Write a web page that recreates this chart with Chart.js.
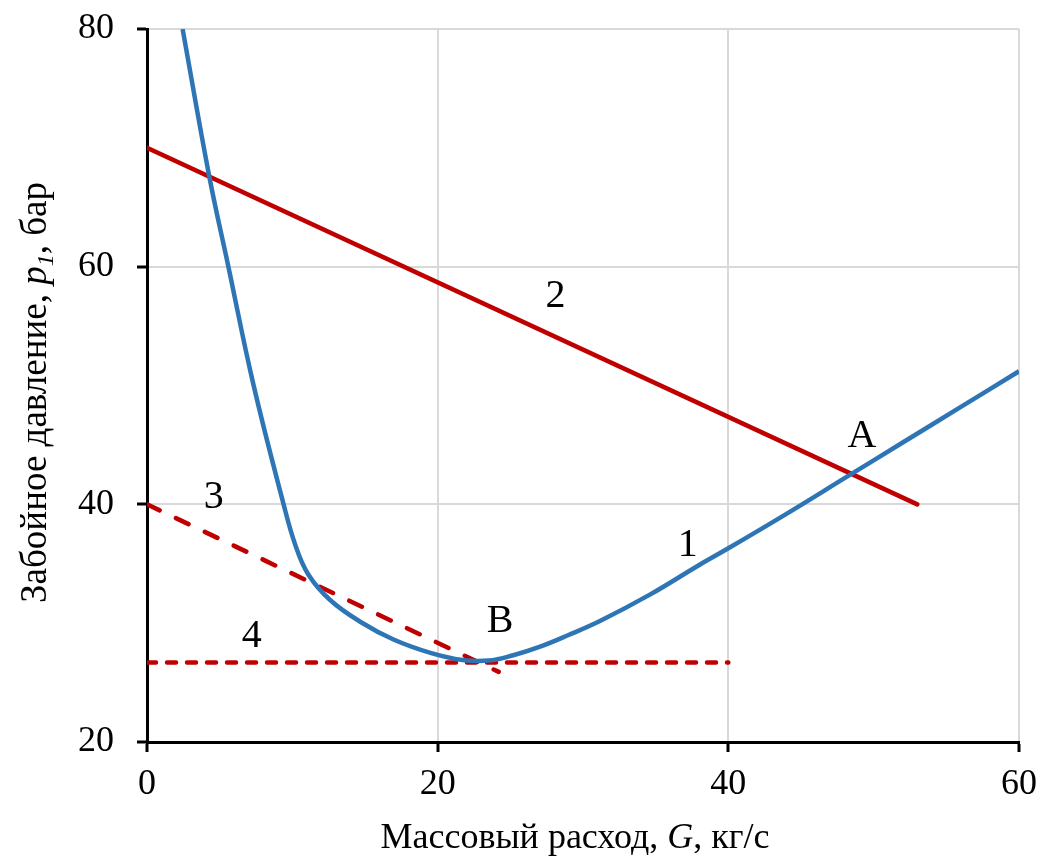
<!DOCTYPE html>
<html lang="ru">
<head>
    <meta charset="UTF-8">
    <title>Забойное давление</title>
    <script src="https://cdn.jsdelivr.net/npm/chart.js"></script>
    <style>
        body { margin: 0; background: #fff; }
        #wrap { width: 1040px; height: 857px; }
    </style>
</head>
<body>
    <div id="wrap"><canvas id="chart"></canvas></div>

    <script>
        // Кривая 1 (синяя) - G, p1
        const curve1G = [2.45, 4.3, 5.6, 7.3, 9.4, 10.2, 11.1, 12.6, 14.7, 17, 19.5, 21.7, 23.5, 25.2, 27, 29, 31.2, 34.6, 38, 40, 44, 48, 52, 56, 60];
        const curve1P = [80, 67.5, 60, 50.2, 40, 36.6, 34.1, 31.95, 30.1, 28.6, 27.5, 26.9, 26.85, 27.3, 28, 29, 30.2, 32.4, 34.9, 36.3, 39.2, 42.2, 45.2, 48.2, 51.2];

        // Прямая 2 (сплошная красная)
        const line2G = [0, 53];
        const line2P = [70, 40];

        // Прямая 3 (штриховая)
        const line3G = [0, 24.2];
        const line3P = [40, 25.9];

        // Прямая 4 (пунктир)
        const line4G = [0, 40];
        const line4P = [26.7, 26.7];

        // Подписи на графике
        const labelText = ['1', '2', '3', '4', 'A', 'B'];
        const labelG = [37.2, 28.1, 4.6, 7.2, 49.2, 24.3];
        const labelP = [36.5, 57.5, 40.6, 28.9, 45.7, 30.1];

        const xTicks = [0, 20, 40, 60];
        const yTicks = [20, 40, 60, 80];

        const toPoints = (xs, ys) => xs.map((x, i) => ({ x: x, y: ys[i] }));

        const serif = "'Liberation Serif', 'Times New Roman', serif";

        // подписи кривых и осей рисуем сами (нужен курсив)
        const textPlugin = {
            id: 'textPlugin',
            afterDraw(chart) {
                const ctx = chart.ctx;
                const xs = chart.scales.x, ys = chart.scales.y;
                const area = chart.chartArea;
                ctx.save();
                ctx.fillStyle = '#000';
                ctx.textAlign = 'center';
                ctx.textBaseline = 'middle';
                ctx.font = '40px ' + serif;
                labelText.forEach((t, i) => {
                    ctx.fillText(t, xs.getPixelForValue(labelG[i]), ys.getPixelForValue(labelP[i]));
                });

                function drawParts(parts, cx, cy, size) {
                    const sub = Math.round(size * 0.66);
                    let total = 0;
                    parts.forEach(p => {
                        ctx.font = (p.it ? 'italic ' : '') + (p.sub ? sub : size) + 'px ' + serif;
                        p.w = ctx.measureText(p.t).width;
                        total += p.w;
                    });
                    let x = cx - total / 2;
                    ctx.textAlign = 'left';
                    ctx.textBaseline = 'alphabetic';
                    parts.forEach(p => {
                        ctx.font = (p.it ? 'italic ' : '') + (p.sub ? sub : size) + 'px ' + serif;
                        ctx.fillText(p.t, x, cy + (p.sub ? 7 : 0));
                        x += p.w;
                    });
                }

                // ось X
                drawParts([
                    { t: 'Массовый расход, ' },
                    { t: 'G', it: true },
                    { t: ', кг/с' }
                ], (area.left + area.right) / 2 - 8, 848, 36);

                // ось Y
                ctx.translate(46, (area.top + area.bottom) / 2);
                ctx.rotate(-Math.PI / 2);
                drawParts([
                    { t: 'Забойное давление, ' },
                    { t: 'p', it: true },
                    { t: '1', it: true, sub: true },
                    { t: ', бар' }
                ], -7, 0, 37);
                ctx.restore();
            }
        };

        new Chart(document.getElementById('chart'), {
            type: 'scatter',
            data: {
                datasets: [
                    {
                        label: '1',
                        data: toPoints(curve1G, curve1P),
                        showLine: true,
                        borderColor: '#2E75B6',
                        borderWidth: 4.5,
                        pointRadius: 0,
                        tension: 0.4
                    },
                    {
                        label: '2',
                        data: toPoints(line2G, line2P),
                        showLine: true,
                        borderColor: '#C00000',
                        borderWidth: 4.5,
                        pointRadius: 0,
                        borderCapStyle: 'round'
                    },
                    {
                        label: '3',
                        data: toPoints(line3G, line3P),
                        showLine: true,
                        borderColor: '#C00000',
                        borderWidth: 4.5,
                        borderDash: [14, 18],
                        borderCapStyle: 'round',
                        pointRadius: 0
                    },
                    {
                        label: '4',
                        data: toPoints(line4G, line4P),
                        showLine: true,
                        borderColor: '#C00000',
                        borderWidth: 4.5,
                        borderDash: [9, 11],
                        borderCapStyle: 'round',
                        pointRadius: 0
                    }
                ]
            },
            options: {
                responsive: true,
                maintainAspectRatio: false,
                animation: false,
                layout: { padding: { top: 29, right: 21, left: 0, bottom: 0 } },
                plugins: {
                    legend: { display: false },
                    tooltip: { enabled: false }
                },
                scales: {
                    x: {
                        type: 'linear',
                        min: 0,
                        max: 60,
                        afterBuildTicks: s => { s.ticks = xTicks.map(v => ({ value: v })); },
                        afterFit: s => {
                            s.height = 115;
                            s.paddingLeft = 0;
                            s.paddingRight = 0;
                        },
                        grid: { color: '#d9d9d9', lineWidth: 2, tickLength: 10, tickColor: '#000', tickWidth: 3 },
                        border: { color: '#000', width: 3 },
                        ticks: { color: '#000', padding: 11, font: { family: serif, size: 36 } }
                    },
                    y: {
                        type: 'linear',
                        min: 20,
                        max: 80,
                        afterBuildTicks: s => { s.ticks = yTicks.map(v => ({ value: v })); },
                        afterFit: s => {
                            s.width = 147;
                            s.paddingTop = 0;
                            s.paddingBottom = 0;
                        },
                        grid: { color: '#d9d9d9', lineWidth: 2, tickLength: 10, tickColor: '#000', tickWidth: 3 },
                        border: { color: '#000', width: 3 },
                        ticks: { color: '#000', padding: 23, font: { family: serif, size: 36 } }
                    }
                }
            },
            plugins: [textPlugin]
        });
    </script>
</body>
</html>
